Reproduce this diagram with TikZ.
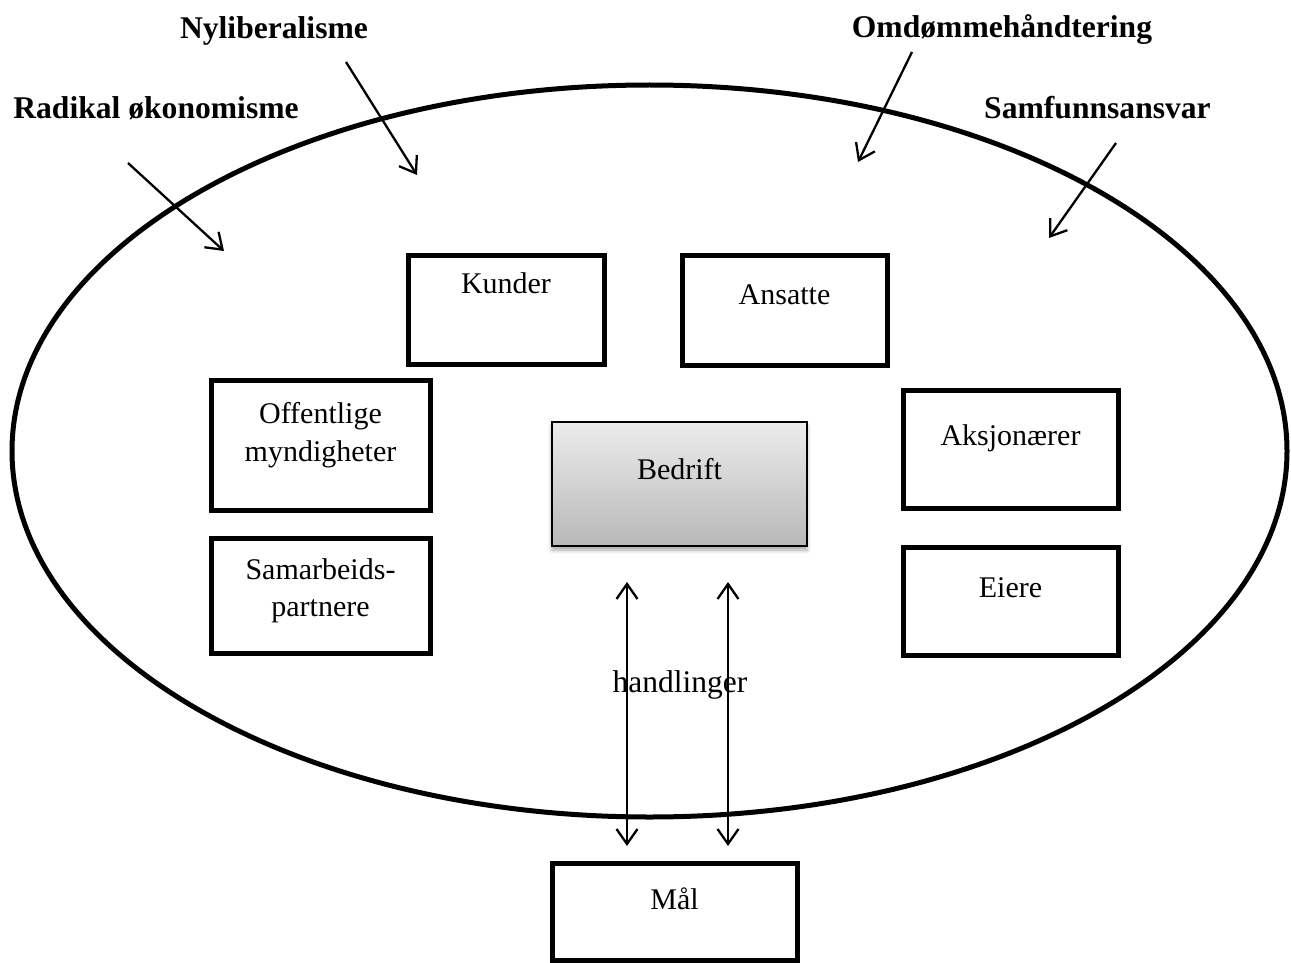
\documentclass[tikz,border=0pt]{standalone}
\usepackage{fontspec}
\setmainfont{Liberation Serif}
\usetikzlibrary{arrows.meta,shadows.blur}
\tikzset{
  box/.style={draw=black, line width=5pt, rectangle, inner sep=0pt, fill=white},
  boxtxt/.style={anchor=base, inner sep=0pt, font=\fontsize{30}{38}\selectfont, align=center},
  headtxt/.style={anchor=base, inner sep=0pt, font=\fontsize{31.6}{38}\selectfont\bfseries},
  arr/.style={line width=2.3pt, -{Straight Barb[length=15pt,width=21pt,line width=2.3pt]}},
  darr/.style={line width=2.3pt, {Straight Barb[length=15pt,width=21pt,line width=2.3pt]}-{Straight Barb[length=15pt,width=21pt,line width=2.3pt]}},
  ring/.style={draw=black, line width=5pt}
}
\begin{document}
\begin{tikzpicture}[x=1pt,y=-1pt]
\useasboundingbox (0,0) rectangle (1291,963);
% outer ellipse
\draw[ring] (649.5,451) ellipse [x radius=637.5, y radius=366];

% boxes
\node[box, minimum width=196pt, minimum height=109pt] (kunder) at (506,309.5) {};
\node[boxtxt] (kundert) at (506,293) {Kunder};
\node[box, minimum width=205pt, minimum height=110pt] (ansatte) at (784.5,310) {};
\node[boxtxt] (ansattet) at (784.5,304) {Ansatte};
\node[box, minimum width=219pt, minimum height=130pt] (off) at (320.5,445) {};
\node[boxtxt] (offt) at (320.5,423) {Offentlige};
\node[boxtxt] (offt2) at (320.5,461) {myndigheter};
\node[box, minimum width=219pt, minimum height=115pt] (sam) at (320.5,595.5) {};
\node[boxtxt] (samt) at (320.5,579) {Samarbeids-};
\node[boxtxt] (samt2) at (320.5,616) {partnere};
\node[box, minimum width=215pt, minimum height=118pt] (aksj) at (1010.5,449) {};
\node[boxtxt] (aksjt) at (1010.5,445) {Aksjonærer};
\node[box, minimum width=215pt, minimum height=108pt] (eiere) at (1010.5,601) {};
\node[boxtxt] (eieret) at (1010.5,597) {Eiere};
\node[draw=black, line width=2.5pt, rectangle, inner sep=0pt, minimum width=255pt, minimum height=124pt,
      top color={rgb,255:red,236;green,236;blue,236}, bottom color={rgb,255:red,184;green,184;blue,184},
      blur shadow={shadow xshift=0pt, shadow yshift=-4pt, shadow blur radius=4pt, shadow opacity=35}] (bedrift) at (679.5,484) {};
\node[boxtxt] (bedriftt) at (679.5,479) {Bedrift};
\node[box, minimum width=245pt, minimum height=97pt] (maal) at (674.5,911.5) {};
\node[boxtxt] (maalt) at (674.5,909) {Mål};

% headings
\node[headtxt] (nylib) at (274,39) {Nyliberalisme};
\node[headtxt] (radik) at (156,119) {Radikal økonomisme};
\node[headtxt] (omd) at (1002,38) {Omdømmehåndtering};
\node[headtxt] (samf) at (1097.5,119) {Samfunnsansvar};

% influence arrows
\coordinate (r1) at (128,163); \coordinate (r2) at (224,251);
\coordinate (n1) at (346,62);  \coordinate (n2) at (417,175);
\coordinate (o1) at (912,52);  \coordinate (o2) at (858,162);
\coordinate (s1) at (1116,143); \coordinate (s2) at (1049,238);
\draw[arr] (r1) -- (r2);
\draw[arr] (n1) -- (n2);
\draw[arr] (o1) -- (o2);
\draw[arr] (s1) -- (s2);

% handlinger
\coordinate (a1t) at (627,582); \coordinate (a1b) at (627,846);
\coordinate (a2t) at (728,582); \coordinate (a2b) at (728,846);
\draw[darr] (a1t) -- (a1b);
\draw[darr] (a2t) -- (a2b);
\node[anchor=base, inner sep=0pt, font=\fontsize{31.5}{38}\selectfont] (handl) at (680,692) {handlinger};
\end{tikzpicture}
\end{document}
